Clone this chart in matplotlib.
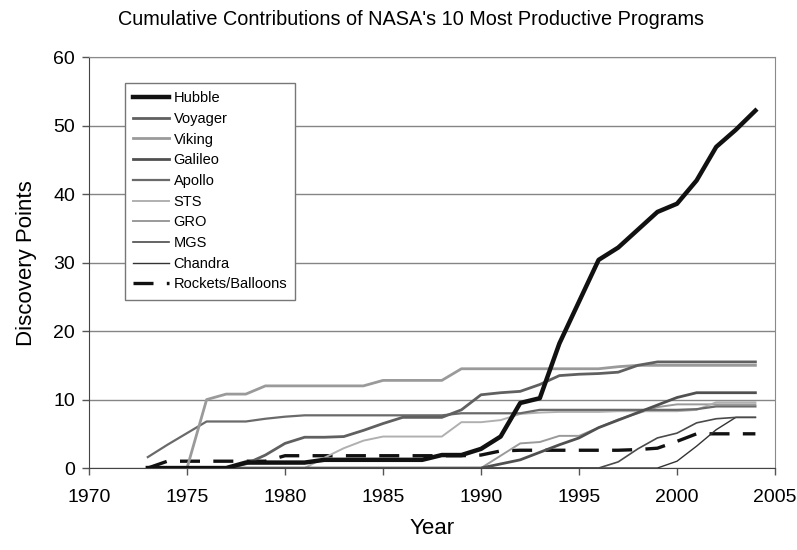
"""Cumulative discovery points of NASA's ten most productive programs."""

import matplotlib

matplotlib.use("Agg")
import matplotlib.pyplot as plt

plt.rcParams["font.family"] = ["Liberation Sans", "DejaVu Sans"]

years = list(range(1973, 2005))

hubble = [0, 0, 0, 0, 0, 0.8, 0.8, 0.8, 0.8, 1.2, 1.2, 1.2, 1.2, 1.2, 1.2, 1.9,
          1.9, 2.8, 4.6, 9.5, 10.2, 18.2, 24.3, 30.4, 32.2, 34.8, 37.4, 38.6,
          42.0, 46.9, 49.4, 52.2]
voyager = [0, 0, 0, 0, 0, 0.6, 1.9, 3.6, 4.5, 4.5, 4.6, 5.5, 6.5, 7.4, 7.4, 7.4,
           8.5, 10.7, 11.0, 11.2, 12.2, 13.5, 13.7, 13.8, 14.0, 15.0, 15.5, 15.5,
           15.5, 15.5, 15.5, 15.5]
viking = [0, 0, 0, 10.0, 10.8, 10.8, 12.0, 12.0, 12.0, 12.0, 12.0, 12.0, 12.8,
          12.8, 12.8, 12.8, 14.5, 14.5, 14.5, 14.5, 14.5, 14.5, 14.5, 14.5, 14.8,
          15.0, 15.0, 15.0, 15.0, 15.0, 15.0, 15.0]
galileo = [0, 0, 0, 0, 0, 0, 0, 0, 0, 0, 0, 0, 0, 0, 0, 0, 0, 0, 0.6, 1.2, 2.3,
           3.4, 4.4, 5.9, 7.0, 8.1, 9.2, 10.3, 11.0, 11.0, 11.0, 11.0]
apollo = [1.6, 3.4, 5.1, 6.8, 6.8, 6.8, 7.2, 7.5, 7.7, 7.7, 7.7, 7.7, 7.7, 7.7,
          7.7, 7.7, 8.0, 8.0, 8.0, 8.0, 8.5, 8.5, 8.5, 8.5, 8.5, 8.5, 8.5, 8.5,
          8.6, 9.0, 9.0, 9.0]
sts = [0, 0, 0, 0, 0, 0, 0, 0, 0, 1.5, 2.9, 4.0, 4.6, 4.6, 4.6, 4.6, 6.7, 6.7,
       7.0, 7.9, 8.1, 8.2, 8.2, 8.2, 8.3, 8.3, 8.3, 8.3, 8.5, 9.6, 9.6, 9.6]
gro = [0, 0, 0, 0, 0, 0, 0, 0, 0, 0, 0, 0, 0, 0, 0, 0, 0, 0, 1.8, 3.6, 3.8, 4.7,
       4.7, 5.9, 7.1, 8.0, 8.9, 9.3, 9.3, 9.3, 9.3, 9.3]
mgs = [0, 0, 0, 0, 0, 0, 0, 0, 0, 0, 0, 0, 0, 0, 0, 0, 0, 0, 0, 0, 0, 0, 0, 0,
       0.9, 2.8, 4.4, 5.1, 6.6, 7.2, 7.4, 7.4]
chandra = [0, 0, 0, 0, 0, 0, 0, 0, 0, 0, 0, 0, 0, 0, 0, 0, 0, 0, 0, 0, 0, 0, 0,
           0, 0, 0, 0, 1.0, 3.2, 5.6, 7.4, 7.4]
rockets = [0, 1.0, 1.0, 1.0, 1.0, 1.0, 1.0, 1.8, 1.8, 1.8, 1.8, 1.8, 1.8, 1.8,
           1.8, 1.8, 1.8, 1.9, 2.5, 2.6, 2.6, 2.6, 2.6, 2.6, 2.6, 2.7, 2.9, 3.9,
           5.0, 5.0, 5.0, 5.0]

# label, values, color, width, dashes
series = [
    ("Hubble", hubble, "#111111", 3.2, None),
    ("Voyager", voyager, "#606060", 2.0, None),
    ("Viking", viking, "#9a9a9a", 2.0, None),
    ("Galileo", galileo, "#505050", 2.0, None),
    ("Apollo", apollo, "#6a6a6a", 1.6, None),
    ("STS", sts, "#b0b0b0", 1.4, None),
    ("GRO", gro, "#9a9a9a", 1.4, None),
    ("MGS", mgs, "#4a4a4a", 1.2, None),
    ("Chandra", chandra, "#333333", 1.0, None),
    ("Rockets/Balloons", rockets, "#111111", 2.4, (6, 4)),
]

fig = plt.figure(figsize=(7.97, 5.5), dpi=100)
ax = fig.add_axes([0.1117, 0.149, 0.8607, 0.747])

for i, (label, values, color, lw, dashes) in enumerate(series):
    line, = ax.plot(years, values, color=color, linewidth=lw, label=label,
                    zorder=10 - i if label != "Hubble" else 12)
    if dashes:
        line.set_dashes(dashes)

ax.set_xlim(1970, 2005)
ax.set_ylim(0, 60)
ax.set_xticks(range(1970, 2006, 5))
ax.set_yticks(range(0, 61, 10))
ax.tick_params(labelsize=14, length=5, width=1, color="#555555", direction="out")
ax.tick_params(axis="x", pad=10)
ax.tick_params(axis="y", pad=5)
ax.grid(axis="y", color="#858585", linewidth=1)
ax.set_axisbelow(True)
for side in ax.spines.values():
    side.set_color("#8a8a8a")
ax.spines["left"].set_color("#444444")
ax.spines["bottom"].set_color("#444444")

ax.set_xlabel("Year", fontsize=16, labelpad=9)
ax.set_ylabel("Discovery Points", fontsize=16, labelpad=12)
fig.suptitle("Cumulative Contributions of NASA's 10 Most Productive Programs",
             fontsize=14.3, x=0.516, y=0.982)

leg = ax.legend(loc="upper left", bbox_to_anchor=(0.052, 0.937),
                borderaxespad=0, fontsize=10.5, handlelength=2.5,
                handletextpad=0.3, labelspacing=0.46, fancybox=False,
                framealpha=1, edgecolor="#777777", borderpad=0.55)
leg.get_frame().set_linewidth(1)

fig.savefig("out.png", dpi=100)
